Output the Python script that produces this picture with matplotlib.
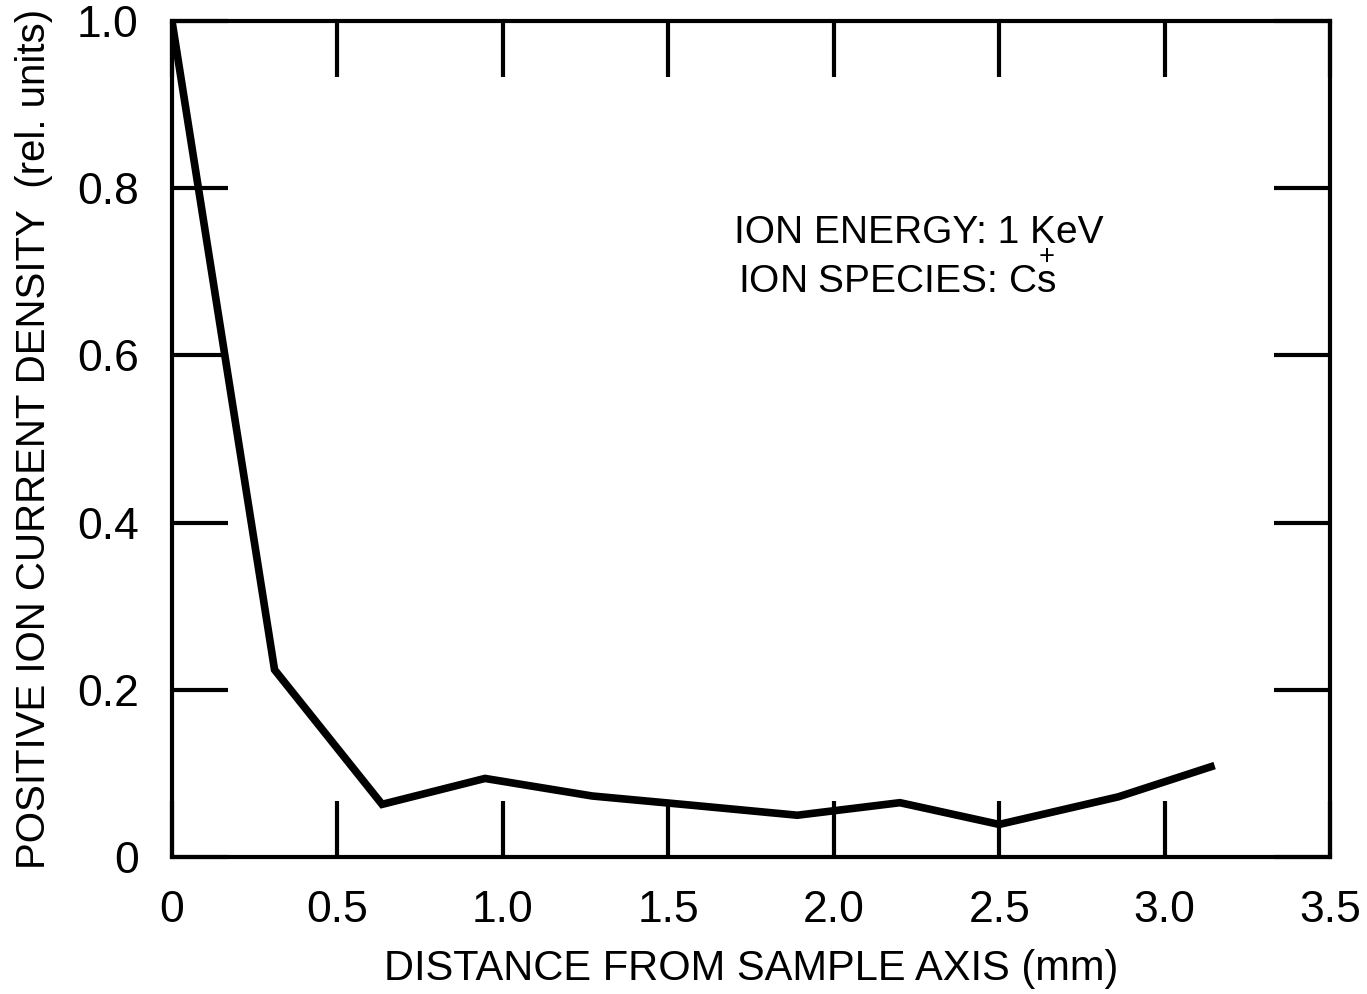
import matplotlib
matplotlib.use("Agg")
import matplotlib.pyplot as plt

# distance from sample axis (mm) and relative ion current density
distance = [0.0, 0.31, 0.635, 0.946, 1.27, 1.57, 1.89, 2.20, 2.50, 2.86, 3.14]
density = [1.0, 0.224, 0.063, 0.094, 0.073, 0.062, 0.050, 0.065, 0.039, 0.072, 0.108]

xticks = [0, 0.5, 1.0, 1.5, 2.0, 2.5, 3.0, 3.5]
xticklabels = ["0", "0.5", "1.0", "1.5", "2.0", "2.5", "3.0", "3.5"]
yticks = [0, 0.2, 0.4, 0.6, 0.8, 1.0]
yticklabels = ["0", "0.2", "0.4", "0.6", "0.8", "1.0"]

plt.rcParams["font.family"] = ["Liberation Sans", "DejaVu Sans"]
plt.rcParams["mathtext.fontset"] = "custom"
plt.rcParams["mathtext.rm"] = "Liberation Sans"
plt.rcParams["mathtext.it"] = "Liberation Sans"
plt.rcParams["mathtext.bf"] = "Liberation Sans:bold"

fig = plt.figure(figsize=(13.67, 9.94), dpi=100)
ax = fig.add_axes([0.1258, 0.1378, 0.8472, 0.8411])

ax.plot(distance, density, color="black", lw=5.5, solid_joinstyle="miter")

ax.set_xlim(0, 3.5)
ax.set_ylim(0, 1.0)
ax.set_xticks(xticks)
ax.set_xticklabels(xticklabels)
ax.set_yticks(yticks)
ax.set_yticklabels(yticklabels)
ax.tick_params(direction="in", length=40, width=3, labelsize=32,
               top=True, right=True)
ax.tick_params(axis="x", pad=24)
ax.tick_params(axis="y", pad=24)

for s in ax.spines.values():
    s.set_linewidth(3)

ax.set_xlabel("DISTANCE FROM SAMPLE AXIS (mm)", fontsize=30, labelpad=13)
ax.set_ylabel("POSITIVE ION CURRENT DENSITY  (rel. units)", fontsize=29, labelpad=17)

ax.text(1.70, 0.734, "ION ENERGY: 1 KeV", fontsize=28, va="baseline")
ax.text(1.71, 0.675, r"ION SPECIES: C$\mathregular{\overset{+}{s}}$", fontsize=28,
        va="baseline")

fig.savefig("out.png", dpi=100)
